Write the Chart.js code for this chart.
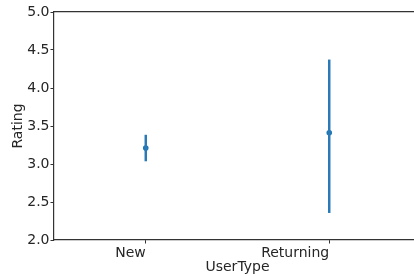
<!DOCTYPE html>
<html>
<head>
<meta charset="utf-8">
<script src="https://cdn.jsdelivr.net/npm/chart.js@4"></script>
<style>
  html, body { margin: 0; padding: 0; background: #fff; overflow: hidden; }
  #wrap { width: 425px; height: 276px; }
</style>
</head>
<body>
<div id="wrap"><canvas id="chart" width="425" height="276"></canvas></div>
<script>
// data
const categories = ['New', 'Returning'];
const meanRating = [3.21, 3.41];
const ciLow = [3.04, 2.36];
const ciHigh = [3.38, 4.37];
const yTicks = [2.0, 2.5, 3.0, 3.5, 4.0, 4.5, 5.0];

const blue = '#2a7ab8';
const ink = '#262626';
Chart.defaults.font.family = 'DejaVu Sans';
Chart.defaults.font.size = 14;
Chart.defaults.color = ink;

const ctx = document.getElementById('chart').getContext('2d');
new Chart(ctx, {
    data: {
        labels: categories,
        datasets: [
            {
                type: 'bar',
                data: categories.map((c, i) => [ciLow[i], ciHigh[i]]),
                backgroundColor: blue,
                barThickness: 1.8,
                borderWidth: 0
            },
            {
                type: 'line',
                data: meanRating,
                showLine: false,
                pointRadius: 2.8,
                pointBackgroundColor: '#1f77b4',
                pointBorderWidth: 0
            }
        ]
    },
    options: {
        responsive: false,
        animation: false,
        layout: { padding: 0 },
        plugins: { legend: { display: false }, tooltip: { enabled: false } },
        scales: {
            x: {
                type: 'category',
                offset: true,
                grid: { display: true, drawOnChartArea: false, offset: false, tickLength: 3.5, tickColor: '#333', tickWidth: 1 },
                border: { color: '#333', width: 1.2 },
                ticks: { align: 'end', padding: 1, maxRotation: 0 },
                title: { display: true, text: 'UserType', padding: { top: 0, bottom: 0 } },
                afterFit: s => { s.height = 36; }
            },
            xTop: {
                type: 'category',
                position: 'top',
                offset: true,
                grid: { display: false },
                border: { color: '#333', width: 1.2 },
                ticks: { display: false },
                afterFit: s => { s.height = 12; }
            },
            y: {
                min: 2,
                max: 5,
                afterBuildTicks: s => { s.ticks = yTicks.map(v => ({ value: v })); },
                grid: { display: true, drawOnChartArea: false, tickLength: 3.5, tickColor: '#333', tickWidth: 1 },
                border: { color: '#333', width: 1.2 },
                ticks: { padding: 1, callback: v => v.toFixed(1) },
                title: { display: true, text: 'Rating', padding: { top: 10, bottom: 2 } },
                afterFit: s => { s.width = 54; }
            }
        }
    }
});
</script>
</body>
</html>
